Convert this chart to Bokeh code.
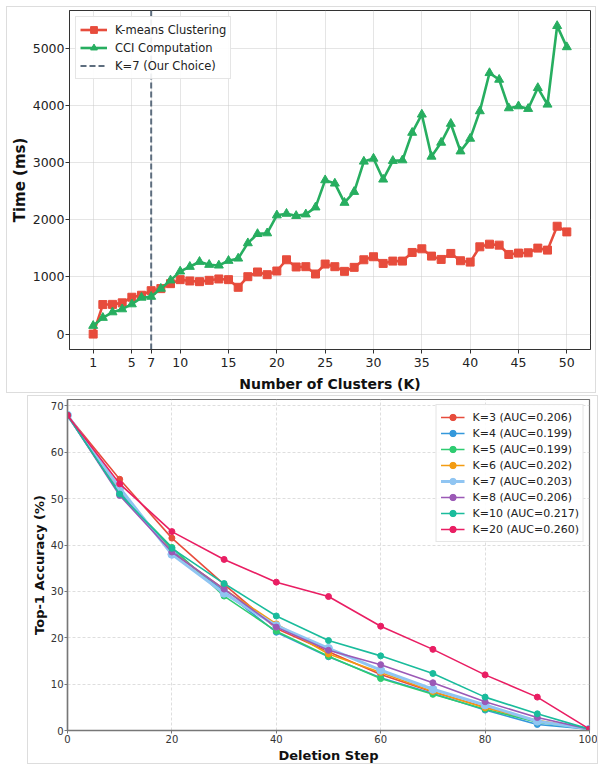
from bokeh.plotting import figure
from bokeh.layouts import column
from bokeh.models import (ColumnDataSource, FixedTicker, Legend, LegendItem, Range1d)
from bokeh.embed import file_html
from bokeh.resources import INLINE

# ---------------- data: top chart ----------------
k_values = list(range(1, 51))
kmeans_ms = [0, 517, 520, 547, 645, 680, 760, 796, 883, 953,
             930, 918, 941, 965, 953, 819, 1005, 1087, 1040, 1104,
             1301, 1175, 1180, 1052, 1226, 1180, 1098, 1168, 1301, 1354,
             1237, 1278, 1278, 1429, 1493, 1365, 1307, 1412, 1284, 1260,
             1528, 1574, 1557, 1394, 1418, 1423, 1505, 1470, 1888, 1789]
cci_ms = [146, 286, 383, 436, 523, 639, 655, 796, 941, 1098,
          1179, 1266, 1214, 1202, 1284, 1324, 1592, 1754, 1766, 2080,
          2108, 2070, 2097, 2219, 2695, 2637, 2300, 2491, 3021, 3073,
          2707, 3033, 3044, 3526, 3845, 3108, 3352, 3683, 3200, 3422,
          3903, 4571, 4455, 3955, 3990, 3944, 4310, 4019, 5395, 5024]
chosen_k = 7
top_xticks = [1, 5, 7, 10, 15, 20, 25, 30, 35, 40, 45, 50]
top_yticks = [0, 1000, 2000, 3000, 4000, 5000]

# ---------------- data: bottom chart ----------------
deletion_steps = [0, 10, 20, 30, 40, 50, 60, 70, 80, 90, 100]
acc_k3 = [68.0, 54.2, 41.5, 31.5, 22.0, 17.0, 12.1, 8.3, 5.0, 2.0, 0.3]
acc_k4 = [68.0, 51.5, 38.8, 30.0, 21.2, 15.9, 11.4, 8.0, 4.4, 1.3, 0.3]
acc_k5 = [68.0, 51.0, 39.5, 29.0, 21.4, 16.0, 11.2, 7.8, 4.6, 1.8, 0.3]
acc_k6 = [68.0, 52.0, 38.5, 30.5, 23.0, 16.5, 12.5, 8.4, 4.9, 2.2, 0.3]
acc_k7 = [68.0, 52.3, 38.0, 29.6, 22.6, 17.7, 13.0, 8.9, 5.5, 2.0, 0.3]
acc_k8 = [68.0, 50.7, 38.5, 30.5, 22.3, 17.3, 14.2, 10.3, 6.2, 2.8, 0.3]
acc_k10 = [68.0, 51.0, 39.3, 31.7, 24.7, 19.4, 16.1, 12.3, 7.2, 3.6, 0.3]
acc_k20 = [68.0, 53.2, 42.9, 36.9, 32.0, 28.9, 22.5, 17.5, 12.0, 7.2, 0.3]
series_labels = ["K=3 (AUC=0.206)", "K=4 (AUC=0.199)", "K=5 (AUC=0.199)",
                 "K=6 (AUC=0.202)", "K=7 (AUC=0.203)", "K=8 (AUC=0.206)",
                 "K=10 (AUC=0.217)", "K=20 (AUC=0.260)"]
series_colors = ["#e74c3c", "#3498db", "#2ecc71", "#f39c12",
                 "#90c5f2", "#9b59b6", "#1abc9c", "#e91e63"]
bottom_xticks = [0, 20, 40, 60, 80, 100]
bottom_yticks = [0, 10, 20, 30, 40, 50, 60, 70]

FONT = "DejaVu Sans"

# ================= top figure =================
x_pad = 0.05 * (max(k_values) - min(k_values))
y_max = max(max(kmeans_ms), max(cci_ms))
y_min = min(min(kmeans_ms), min(cci_ms))
y_pad = 0.05 * (y_max - y_min)
y_lo, y_hi = y_min - y_pad, y_max + y_pad

p1 = figure(width=590, height=387, output_backend="svg", toolbar_location=None,
            x_range=Range1d(min(k_values) - x_pad, max(k_values) + x_pad),
            y_range=Range1d(y_lo, y_hi), frame_align=False,
            min_border_left=60, min_border_right=7, min_border_top=3, min_border_bottom=42,
            margin=(6, 0, 0, 6), styles={"border": "1px solid #dddddd", "box-sizing": "border-box"})
p1.outline_line_color = "#333333"
p1.outline_line_width = 1
for ax in (p1.xaxis[0], p1.yaxis[0]):
    ax.major_label_text_font = FONT
    ax.major_label_text_font_size = "12.5px"
    ax.major_label_text_color = "#222222"
    ax.axis_label_text_font = FONT
    ax.axis_label_text_font_style = "bold"
    ax.axis_label_text_color = "#111111"
    ax.minor_tick_line_color = None
    ax.major_tick_out = 4
    ax.major_tick_in = 0
    ax.axis_line_color = "#333333"
    ax.major_tick_line_color = "#333333"
p1.xaxis.axis_label_text_font_size = "14px"
p1.yaxis.axis_label_text_font_size = "15px"
p1.xaxis.ticker = FixedTicker(ticks=top_xticks)
p1.yaxis.ticker = FixedTicker(ticks=top_yticks)
p1.xaxis.axis_label = "Number of Clusters (K)"
p1.yaxis.axis_label = "Time (ms)"
p1.xaxis.major_label_standoff = 4
p1.yaxis.major_label_standoff = 1
p1.xaxis.axis_label_standoff = 6
p1.yaxis.axis_label_standoff = 1
p1.xgrid.ticker = FixedTicker(ticks=top_xticks)
p1.ygrid.ticker = FixedTicker(ticks=top_yticks)
p1.grid.grid_line_color = "#cccccc"
p1.grid.grid_line_alpha = 0.5

src1 = ColumnDataSource(dict(k=k_values, km=kmeans_ms, cci=cci_ms))
r_v = p1.line(x=[chosen_k, chosen_k], y=[y_lo, y_hi], line_color="#5d6d7e",
              line_width=2, line_dash="6 3")
r_km_line = p1.line("k", "km", source=src1, line_color="#e74c3c", line_width=2.6)
r_km_mark = p1.scatter("k", "km", source=src1, marker="square", size=8,
                       fill_color="#e74c3c", line_color="#e74c3c")
r_cci_line = p1.line("k", "cci", source=src1, line_color="#27ae60", line_width=2.6)
r_cci_mark = p1.scatter("k", "cci", source=src1, marker="triangle", size=9,
                        fill_color="#27ae60", line_color="#27ae60")

leg1 = Legend(items=[LegendItem(label="K-means Clustering", renderers=[r_km_line, r_km_mark]),
                     LegendItem(label="CCI Computation", renderers=[r_cci_line, r_cci_mark]),
                     LegendItem(label="K=7 (Our Choice)", renderers=[r_v])],
              location="top_left")
leg1.margin = 6
leg1.padding = 4
leg1.spacing = 1
leg1.label_height = 17
leg1.glyph_height = 17
leg1.glyph_width = 27
leg1.label_standoff = 8
leg1.label_text_font = FONT
leg1.label_text_font_size = "11.5px"
leg1.label_text_color = "#222222"
leg1.border_line_color = "#cccccc"
leg1.border_line_width = 1
leg1.background_fill_alpha = 0.9
p1.add_layout(leg1)

# ================= bottom figure =================
p2 = figure(width=571, height=369, output_backend="svg", toolbar_location=None,
            x_range=Range1d(min(deletion_steps), max(deletion_steps)),
            y_range=Range1d(0, max(acc_k3) * 1.05), frame_align=False,
            min_border_left=38, min_border_right=10, min_border_top=3, min_border_bottom=32,
            margin=(2, 0, 0, 27), styles={"border": "1px solid #dddddd", "box-sizing": "border-box"})
p2.outline_line_color = "#777777"
p2.outline_line_width = 1.2
for ax in (p2.xaxis[0], p2.yaxis[0]):
    ax.major_label_text_font = FONT
    ax.major_label_text_font_size = "10px"
    ax.major_label_text_color = "#333333"
    ax.axis_label_text_font = FONT
    ax.axis_label_text_font_style = "bold"
    ax.axis_label_text_color = "#111111"
    ax.minor_tick_line_color = None
    ax.major_tick_out = 3
    ax.major_tick_in = 0
    ax.axis_line_color = "#777777"
    ax.axis_line_width = 1.5
    ax.major_tick_line_color = "#777777"
p2.xaxis.ticker = FixedTicker(ticks=bottom_xticks)
p2.yaxis.ticker = FixedTicker(ticks=bottom_yticks)
p2.xaxis.axis_label = "Deletion Step"
p2.yaxis.axis_label = "Top-1 Accuracy (%)"
p2.xaxis.axis_label_text_font_size = "13px"
p2.yaxis.axis_label_text_font_size = "13px"
p2.xaxis.major_label_standoff = 1
p2.yaxis.major_label_standoff = 1
p2.xaxis.axis_label_standoff = 2
p2.yaxis.axis_label_standoff = 1
p2.xgrid.ticker = FixedTicker(ticks=bottom_xticks)
p2.ygrid.ticker = FixedTicker(ticks=bottom_yticks)
p2.grid.grid_line_color = "#d0d0d0"
p2.grid.grid_line_alpha = 0.7
p2.grid.grid_line_dash = "3 2"

all_acc = [acc_k3, acc_k4, acc_k5, acc_k6, acc_k7, acc_k8, acc_k10, acc_k20]
items2 = []
for lbl, col, acc in zip(series_labels, series_colors, all_acc):
    is_main = lbl.startswith("K=7 ")
    src = ColumnDataSource(dict(x=deletion_steps, y=acc))
    rl = p2.line("x", "y", source=src, line_color=col, line_width=3 if is_main else 1.6)
    rm = p2.scatter("x", "y", source=src, marker="circle", size=8 if is_main else 6,
                    fill_color=col, line_color=col)
    items2.append(LegendItem(label=lbl, renderers=[rl, rm]))

leg2 = Legend(items=items2, location="top_right")
leg2.margin = 5
leg2.padding = 4
leg2.spacing = 0
leg2.label_height = 16
leg2.glyph_height = 16
leg2.glyph_width = 24
leg2.label_standoff = 8
leg2.label_text_font = FONT
leg2.label_text_font_size = "11px"
leg2.label_text_color = "#222222"
leg2.border_line_color = "#cccccc"
leg2.background_fill_alpha = 0.9
p2.add_layout(leg2)

layout = column(p1, p2, spacing=0)
open("out.html", "w").write(file_html(layout, INLINE))
